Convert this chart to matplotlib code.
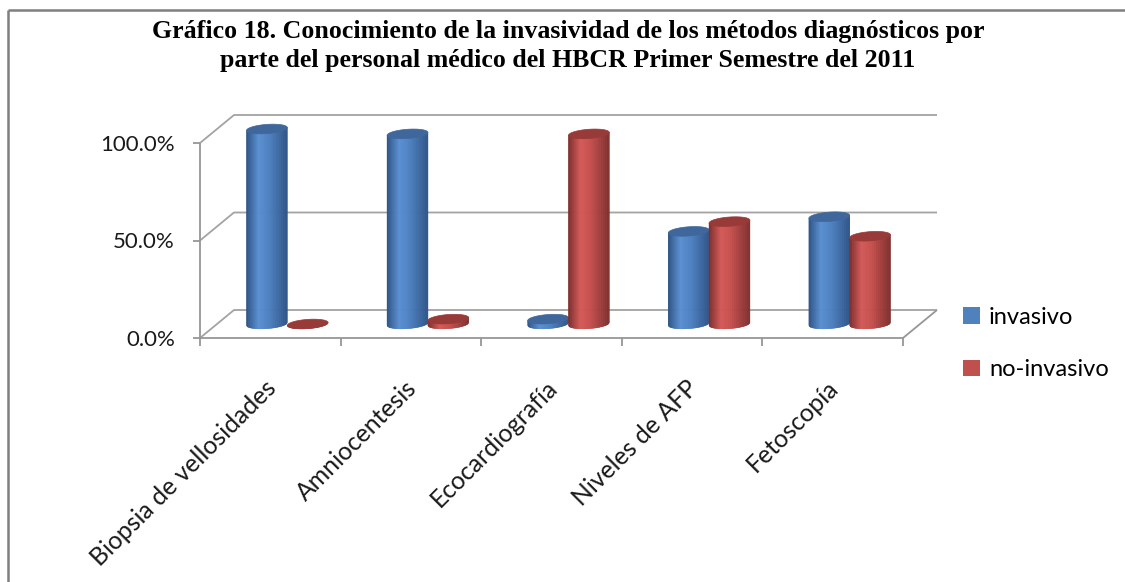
import numpy as np
import matplotlib
matplotlib.use("Agg")
import matplotlib.pyplot as plt
import matplotlib.transforms as mtransforms
from matplotlib.collections import PolyCollection
from matplotlib.patches import Polygon, Patch
from matplotlib.lines import Line2D
from matplotlib.colors import to_rgb

# ---- data -------------------------------------------------------------
categories = ["Biopsia de vellosidades", "Amniocentesis", "Ecocardiografía",
              "Niveles de AFP", "Fetoscopía"]
invasivo = [1.000, 0.975, 0.025, 0.475, 0.550]
no_invasivo = [0.000, 0.025, 0.975, 0.525, 0.450]
series_names = ["invasivo", "no-invasivo"]
y_ticks = [0.0, 0.5, 1.0]
y_tick_labels = ["0.0%", "50.0%", "100.0%"]
title = ("Gráfico 18. Conocimiento de la invasividad de los métodos diagnósticos por\n"
         "parte del personal médico del HBCR Primer Semestre del 2011")

# ---- styling -------------------------------------------------------------
W, H, DPI = 1125, 582, 100
DEPTH = np.array([34.0, 28.0])        # px offset from front to back wall
BAR_W = 0.29                          # bar width in category units
B_ELL = 4.6                           # half height of the cylinder caps (px)
TILT = 0.07                           # cap tilt (px per px)
GRID = "#a3a3a3"
AXIS = "#969696"
LABEL_FONT = "Lato"

blue_stops = [(0.0, "#2c5283"), (0.30, "#5a8fd2"), (0.55, "#4f82c2"), (1.0, "#30568a")]
red_stops = [(0.0, "#7a2c2b"), (0.30, "#d45a58"), (0.55, "#c4504e"), (1.0, "#80302f")]
blue_top = "#3f679b"
red_top = "#973a38"
legend_blue = "#4f81bd"
legend_red = "#c0504d"

fig = plt.figure(figsize=(W / DPI, H / DPI), dpi=DPI)
ax = fig.add_axes([200 / W, (H - 338) / H, 703 / W, 195 / H])
n = len(categories)
ax.set_xlim(0, n)
ax.set_ylim(0, 1)
ax.patch.set_visible(False)
for sp in ax.spines.values():
    sp.set_visible(False)
ax.set_xticks([])
ax.set_yticks([])

IDT = mtransforms.IdentityTransform()


def px(x, y, d=0.0):
    """Data point on the plane at relative depth d (0 front, 1 back), in display px."""
    return ax.transData.transform((x, y)) + d * DEPTH


def seg(points, color=AXIS, lw=1.3, z=1):
    arr = np.array(points)
    fig.add_artist(Line2D(arr[:, 0], arr[:, 1], color=color, lw=lw,
                          transform=IDT, zorder=z, solid_capstyle="butt"))


def gradient(stops, t):
    pos = [s[0] for s in stops]
    cols = np.array([to_rgb(s[1]) for s in stops])
    return tuple(np.interp(t, pos, cols[:, k]) for k in range(3))


def cylinder(xl, xr, v, stops, top_color, z):
    p0 = px(xl, 0, 0.5)
    p1 = px(xr, 0, 0.5)
    yt = px(xl, v, 0.5)[1]
    x0, x1, yb = p0[0], p1[0], p0[1]
    cx, a = (x0 + x1) / 2, (x1 - x0) / 2

    def lower(x):
        u = np.clip((x - cx) / a, -1, 1)
        return -B_ELL * np.sqrt(1 - u ** 2) + TILT * (x - cx)

    N = 60
    edges = np.linspace(x0, x1, N + 1)
    polys, cols = [], []
    for k in range(N):
        xa, xb = edges[k], edges[k + 1]
        polys.append([(xa, yb + lower(xa)), (xb, yb + lower(xb)),
                      (xb, yt + TILT * (xb - cx)), (xa, yt + TILT * (xa - cx))])
        cols.append(gradient(stops, (k + 0.5) / N))
    fig.add_artist(PolyCollection(polys, facecolors=cols, edgecolors=cols,
                                  linewidths=0.4, transform=IDT, zorder=z))
    th = np.linspace(0, 2 * np.pi, 120)
    ex = cx + a * np.cos(th)
    ey = yt + B_ELL * np.sin(th) + TILT * a * np.cos(th)
    fig.add_artist(Polygon(np.column_stack([ex, ey]), closed=True,
                           facecolor=top_color, edgecolor=top_color, lw=0.5,
                           transform=IDT, zorder=z + 0.1))


# ---- walls, floor and axes -----------------------------------------------
for yv in y_ticks:
    seg([px(0, yv, 0), px(0, yv, 1), px(n, yv, 1)], color=GRID, lw=1.3)
seg([px(n, 0, 0), px(n, 0, 1)], color=AXIS)
seg([px(0, 0, 0), px(n, 0, 0)], color=AXIS, z=3)
seg([px(0, 0, 0) - (0, 8), px(0, 1, 0)], color=AXIS, z=3)
for yv in y_ticks:
    seg([px(0, yv, 0) - (7, 0), px(0, yv, 0)], color=AXIS, z=3)
for i in range(1, n + 1):
    seg([px(i, 0, 0), px(i, 0, 0) - (0, 8)], color=AXIS, z=3)

# ---- cylinders ------------------------------------------------------------
z = 5
for i in range(n):
    c = i + 0.5
    cylinder(c - BAR_W, c, invasivo[i], blue_stops, blue_top, z)
    cylinder(c, c + BAR_W, no_invasivo[i], red_stops, red_top, z + 1)
    z += 2

# ---- text -------------------------------------------------------------------
for yv, lab in zip(y_ticks, y_tick_labels):
    ax.text(0, yv, lab, ha="right", va="center", fontsize=16, family=LABEL_FONT,
            color="#1a1a1a",
            transform=ax.transData + mtransforms.ScaledTranslation(-25 / DPI, -2 / DPI,
                                                                   fig.dpi_scale_trans))
for i, lab in enumerate(categories):
    ax.text(i + 0.5, 0, lab, ha="right", va="center", rotation=45,
            rotation_mode="anchor", fontsize=17.8, family=LABEL_FONT, color="#1a1a1a",
            transform=ax.transData + mtransforms.ScaledTranslation(2 / DPI, -46 / DPI,
                                                                   fig.dpi_scale_trans))

fig.text(568 / W, 1 - 46 / H, title, ha="center", va="center",
         family="Liberation Serif", fontweight="bold", fontsize=18.6, linespacing=1.3)

handles = [Patch(facecolor=legend_blue, edgecolor="none"),
           Patch(facecolor=legend_red, edgecolor="none")]
fig.legend(handles, series_names, loc="upper left",
           bbox_to_anchor=(963 / W, 1 - 307 / H), frameon=False,
           handlelength=0.7, handleheight=0.7, handletextpad=0.4,
           labelspacing=1.33, borderaxespad=0, borderpad=0,
           prop={"family": LABEL_FONT, "size": 17})

# outer frame (top and left edges)
seg([(8, H - 10), (W, H - 10)], color="#7f7f7f", lw=1.8, z=10)
seg([(8, H - 10), (8, 0)], color="#7f7f7f", lw=1.8, z=10)

fig.savefig("out.png", dpi=DPI)
